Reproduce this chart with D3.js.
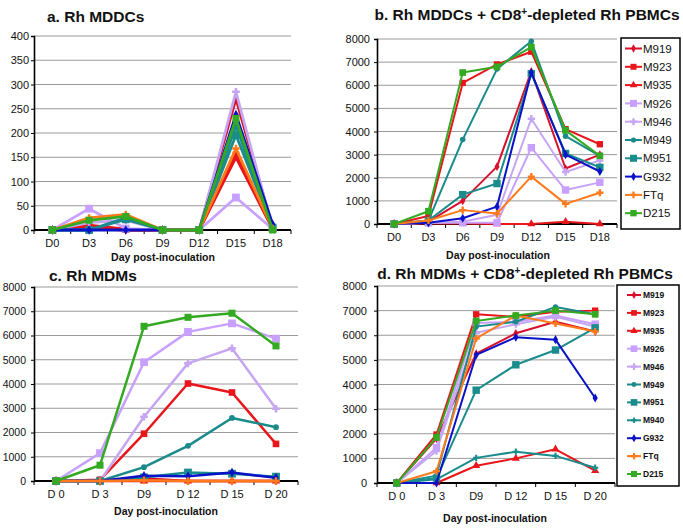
<!DOCTYPE html>
<html><head><meta charset="utf-8">
<script src="https://cdn.jsdelivr.net/npm/d3@7"></script>
<style>body{margin:0;background:#fff} svg{display:block;font-family:"Liberation Sans",Arial,sans-serif}</style>
</head><body><svg id="chart" width="683" height="530"></svg>
<script>
// ---------- data ----------
const daysAB = ["D0","D3","D6","D9","D12","D15","D18"];
const daysCD = ["D 0","D 3","D9","D 12","D 15","D 20"];
const namesB = ["M919","M923","M935","M926","M946","M949","M951","G932","FTq","D215"];
const namesD = ["M919","M923","M935","M926","M946","M949","M951","M940","G932","FTq","D215"];
const ticksA = [0,50,100,150,200,250,300,350,400];
const ticksBCD = [0,1000,2000,3000,4000,5000,6000,7000,8000];

// a. Rh MDDCs
const aM919 = [0,5,0,0,0,271,5];
const aM923 = [0,10,2,0,0,155,3];
const aM935 = [0,3,0,0,0,150,2];
const aM926 = [0,44,3,0,0,67,2];
const aM946 = [0,15,20,0,0,285,3];
const aM949 = [0,0,25,0,0,215,5];
const aM951 = [0,0,22,0,0,196,5];
const aG932 = [0,0,0,0,0,238,12];
const aFTq  = [0,25,32,0,0,168,3];
const aD215 = [0,20,28,0,0,230,0];

// b. Rh MDDCs + CD8+-depleted Rh PBMCs
const bM919 = [0,100,1000,2480,6600,2400,3000];
const bM923 = [0,350,6100,6900,7450,4100,3450];
const bM935 = [0,30,20,0,0,100,0];
const bM926 = [0,50,50,50,3300,1470,1800];
const bM946 = [0,50,100,400,4550,2250,2750];
const bM949 = [0,150,3650,6700,7900,3800,2950];
const bM951 = [0,150,1270,1750,6500,3050,2450];
const bG932 = [0,50,250,750,6550,3000,2270];
const bFTq  = [0,150,600,450,2050,870,1350];
const bD215 = [0,550,6550,6800,7650,4050,2950];

// c. Rh MDMs
const cM919 = [0,0,100,0,0,0];
const cM923 = [0,50,1950,4020,3650,1530];
const cM935 = [0,0,0,0,0,0];
const cM926 = [0,1150,4900,6150,6500,5870];
const cM946 = [0,0,2650,4850,5470,2980];
const cM949 = [0,0,570,1450,2600,2220];
const cM951 = [0,0,150,350,300,180];
const cG932 = [0,0,220,200,350,130];
const cFTq  = [0,0,30,0,0,0];
const cD215 = [0,650,6380,6750,6920,5570];

// d. Rh MDMs + CD8+-depleted Rh PBMCs
const dM919 = [0,1800,5250,6080,6550,6150];
const dM923 = [0,1970,6850,6750,6950,7000];
const dM935 = [0,0,700,1000,1370,500];
const dM926 = [0,1430,6500,6550,6800,6450];
const dM946 = [0,1300,6100,6450,6750,6350];
const dM949 = [0,300,6350,6550,7150,6850];
const dM951 = [0,200,3770,4800,5400,6300];
const dM940 = [0,150,1020,1270,1100,620];
const dG932 = [0,0,5200,5920,5820,3450];
const dFTq  = [0,480,5870,6800,6480,6150];
const dD215 = [0,1850,6580,6800,7000,6850];

// ---------- styles ----------
const style = {
  M919:{c:"#d8102c", s:d3.symbolDiamond, a:22},
  M923:{c:"#e8151b", s:d3.symbolSquare, a:40},
  M935:{c:"#e8151b", s:d3.symbolTriangle, a:28},
  M926:{c:"#c8a0ff", s:d3.symbolSquare, a:55},
  M946:{c:"#c6a6f2", s:d3.symbolCross, a:30},
  M949:{c:"#1b8a8a", s:d3.symbolCircle, a:24},
  M951:{c:"#1a8c8c", s:d3.symbolSquare, a:55},
  M940:{c:"#1a8c8c", s:d3.symbolCross, a:22},
  G932:{c:"#0a12c8", s:d3.symbolDiamond, a:24},
  FTq: {c:"#ff7a1a", s:d3.symbolCross, a:28},
  D215:{c:"#33aa22", s:d3.symbolSquare, a:45}
};

const svg = d3.select("#chart");

function panel(o){
  const g = svg.append("g");
  const x = d3.scaleBand().domain(o.cats).range([o.x0, o.x1]);
  const y = d3.scaleLinear().domain([0, o.ymax]).range([o.yb, o.yt]);
  // gridlines
  g.selectAll(".grid").data(o.ticks.filter(t=>t>0)).enter().append("line")
    .attr("x1", o.x0).attr("x2", o.x1).attr("y1", d=>y(d)).attr("y2", d=>y(d))
    .attr("stroke", "#9a9a9a").attr("stroke-width", 1);
  // y axis
  const ya = g.append("g").attr("transform", `translate(${o.x0},0)`)
    .call(d3.axisLeft(y).tickValues(o.ticks).tickSize(3).tickPadding(o.pad).tickFormat(d3.format("d")));
  ya.select(".domain").attr("stroke","#000").attr("stroke-width",1.6);
  ya.selectAll("text").attr("font-size", o.tf).attr("fill","#111");
  ya.selectAll("line").attr("stroke","#000");
  // x axis line + ticks at boundaries
  g.append("line").attr("x1", o.x0).attr("x2", o.x1).attr("y1", y(0)).attr("y2", y(0))
    .attr("stroke","#000").attr("stroke-width",1.8);
  const bounds = o.cats.map(c=>x(c)).concat([o.x1]);
  g.selectAll(".xt").data(bounds).enter().append("line")
    .attr("x1",d=>d).attr("x2",d=>d).attr("y1",y(0)).attr("y2",y(0)+4).attr("stroke","#000");
  g.selectAll(".xl").data(o.cats).enter().append("text")
    .attr("x", d=>x(d)+x.bandwidth()/2).attr("y", y(0)+17)
    .attr("text-anchor","middle").attr("font-size", o.xf).attr("fill","#111").text(d=>d);
  // series
  const cx = d=> x(d.cat)+x.bandwidth()/2;
  o.series.forEach(s=>{
    const st = style[s.name];
    const pts = s.values.map((v,i)=>({cat:o.cats[i], v}));
    g.append("path").datum(pts)
      .attr("d", d3.line().x(cx).y(d=>y(d.v)))
      .attr("fill","none").attr("stroke", st.c).attr("stroke-width", o.lw).attr("stroke-linejoin","round");
    g.selectAll(null).data(pts).enter().append("path")
      .attr("d", d3.symbol().type(st.s).size(st.a*o.ms))
      .attr("transform", d=>`translate(${cx(d)},${y(d.v)})`)
      .attr("fill", st.c).attr("stroke", st.s===d3.symbolCross? "none":"none");
  });
  // title
  g.append("text").attr("x", o.tx).attr("y", o.ty).attr("text-anchor", o.ta)
    .attr("font-size", o.tsz).attr("font-weight","bold").attr("fill","#111")
    .html(o.title);
  // x label
  g.append("text").attr("x", o.lx).attr("y", o.ly).attr("text-anchor","middle")
    .attr("font-size", 10.5).attr("font-weight","bold").attr("fill","#111").text("Day post-inoculation");
  // legend
  if (o.legend){
    const L = o.legend;
    g.append("rect").attr("x",L.x).attr("y",L.y).attr("width",L.w).attr("height",L.h)
      .attr("fill","#fff").attr("stroke","#000").attr("stroke-width",1.5);
    o.series.forEach((s,i)=>{
      const st = style[s.name];
      const yy = L.y0 + i*L.dy;
      g.append("line").attr("x1",L.lx0).attr("x2",L.lx1).attr("y1",yy).attr("y2",yy)
        .attr("stroke",st.c).attr("stroke-width",2);
      g.append("path").attr("d", d3.symbol().type(st.s).size(st.a*L.ms))
        .attr("transform",`translate(${(L.lx0+L.lx1)/2},${yy})`).attr("fill",st.c);
      g.append("text").attr("x",L.tx).attr("y",yy+L.fs*0.36).attr("font-size",L.fs)
        .attr("font-weight",L.fw).attr("fill","#111").text(s.name);
    });
  }
}

const mk = (names, arrs) => names.map((n,i)=>({name:n, values:arrs[i]}));

panel({cats:daysAB, ymax:400, ticks:ticksA, x0:34, x1:291, yb:230, yt:36, pad:2, tf:11, xf:11,
  lw:2.8, ms:1.1,
  series: mk(namesB,[aM919,aM923,aM935,aM926,aM946,aM949,aM951,aG932,aFTq,aD215]),
  title:"a. Rh MDDCs", tx:47, ty:22, ta:"start", tsz:15.5, lx:163, ly:261});

panel({cats:daysAB, ymax:8000, ticks:ticksBCD, x0:377, x1:617, yb:224, yt:39, pad:4, tf:11, xf:11,
  lw:2, ms:1,
  series: mk(namesB,[bM919,bM923,bM935,bM926,bM946,bM949,bM951,bG932,bFTq,bD215]),
  title:"b. Rh MDDCs + CD8<tspan baseline-shift='super' font-size='10'>+</tspan>-depleted Rh PBMCs", tx:527, ty:20, ta:"middle", tsz:15.5, lx:498, ly:259,
  legend:{x:621, y:38, w:59, h:191, y0:48.5, dy:18.3, lx0:625, lx1:642, tx:643, fs:11.5, fw:"normal", ms:0.9}});

panel({cats:daysCD, ymax:8000, ticks:ticksBCD, x0:34, x1:298, yb:481, yt:287, pad:5, tf:10.5, xf:11,
  lw:2.5, ms:1.1,
  series: mk(namesB,[cM919,cM923,cM935,cM926,cM946,cM949,cM951,cG932,cFTq,cD215]),
  title:"c. Rh MDMs", tx:49, ty:281, ta:"start", tsz:15.5, lx:166, ly:515});

panel({cats:daysCD, ymax:8000, ticks:ticksBCD, x0:377, x1:615, yb:483, yt:286, pad:7, tf:11, xf:11,
  lw:2, ms:1,
  series: mk(namesD,[dM919,dM923,dM935,dM926,dM946,dM949,dM951,dM940,dG932,dFTq,dD215]),
  title:"d. Rh MDMs + CD8<tspan baseline-shift='super' font-size='10'>+</tspan>-depleted Rh PBMCs", tx:525, ty:279, ta:"middle", tsz:15.5, lx:495, ly:522,
  legend:{x:617, y:285, w:62, h:201, y0:295, dy:17.9, lx0:627, lx1:641, tx:643, fs:8.5, fw:"bold", ms:0.8}});
</script></body></html>
